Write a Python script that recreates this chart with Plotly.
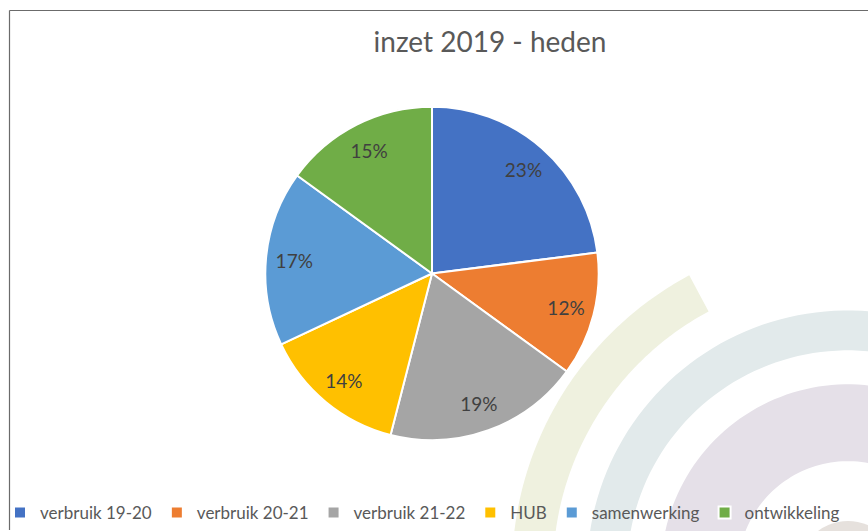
import numpy as np
import plotly.graph_objects as go

W, H = 868, 531
ML = 14  # left margin in px (room for the legend to start near the edge)

# ---- data ----
categories = ["verbruik 19-20", "verbruik 20-21", "verbruik 21-22", "HUB", "samenwerking", "ontwikkeling"]
shares = [23, 12, 19, 14, 17, 15]
colors = ["#4472C4", "#ED7D31", "#A5A5A5", "#FFC000", "#5B9BD5", "#70AD47"]
title_text = "inzet 2019 - heden"


def px(x):
    return (x - ML) / (W - ML)


def py(y):
    return 1 - y / H


def ring_path(cx, cy, r_out, r_in, a0, a1, n=120):
    """Closed band between two radii (pixel space), angles in degrees (screen)."""
    t = np.radians(np.linspace(a0, a1, n))
    outer = [(cx + r_out * np.cos(a), cy + r_out * np.sin(a)) for a in t]
    inner = [(cx + r_in * np.cos(a), cy + r_in * np.sin(a)) for a in t[::-1]]
    pts = outer + inner
    return "M " + " L ".join(f"{px(x):.5f},{py(y):.5f}" for x, y in pts) + " Z"


cx, cy = 848, 572
shapes = []
deco = [
    (336, 295, 170, 241.8, "#eff1df"),
    (261, 221, 150, 390, "#e2eaeb"),
    (187, 110, 150, 390, "#e5e0e8"),
]
for ro, ri, a0, a1, col in deco:
    shapes.append(dict(type="path", path=ring_path(cx, cy, ro, ri, a0, a1),
                       xref="paper", yref="paper", fillcolor=col,
                       line=dict(width=0), layer="below"))
shapes.append(dict(type="circle", xref="paper", yref="paper",
                   x0=px(cx - 50), x1=px(cx + 50), y0=py(cy + 50), y1=py(cy - 50),
                   fillcolor="#e6e1dd", line=dict(width=0), layer="below"))
# frame lines
shapes.append(dict(type="line", xref="paper", yref="paper",
                   x0=px(9.5), x1=px(9.5), y0=py(10.5), y1=py(H),
                   line=dict(color="#6b6b6b", width=1.2)))
shapes.append(dict(type="line", xref="paper", yref="paper",
                   x0=px(9.5), x1=px(W), y0=py(10.5), y1=py(10.5),
                   line=dict(color="#6b6b6b", width=1.2)))

pcx, pcy, pr = 432, 274, 167
dom = dict(x=[px(pcx - pr), px(pcx + pr)], y=[py(pcy + pr), py(pcy - pr)])

fig = go.Figure()
fig.add_trace(go.Pie(
    labels=categories,
    values=shares,
    sort=False,
    direction="clockwise",
    rotation=0,
    marker=dict(colors=colors, line=dict(color="white", width=2)),
    textinfo="none",
    hoverinfo="label+percent",
    domain=dom,
))
# transparent ring carrying the percentage labels near the outer edge
fig.add_trace(go.Pie(
    labels=categories,
    values=shares,
    sort=False,
    direction="clockwise",
    rotation=0,
    hole=0.66,
    marker=dict(colors=["rgba(0,0,0,0)"] * len(categories), line=dict(width=0)),
    texttemplate="%{percent:.0%}",
    textposition="inside",
    insidetextorientation="horizontal",
    insidetextfont=dict(family="Lato", size=19, color="#404040"),
    hoverinfo="skip",
    showlegend=False,
    domain=dom,
))

fig.update_layout(
    width=W, height=H,
    margin=dict(l=ML, r=0, t=0, b=0),
    paper_bgcolor="white",
    plot_bgcolor="white",
    title=dict(text=title_text, x=490 / W, xanchor="center", y=py(42), yanchor="middle",
               font=dict(family="Lato", size=28, color="#595959")),
    legend=dict(orientation="h",
                x=px(0), xanchor="left", y=-0.001, yanchor="bottom",
                font=dict(family="Lato", size=17, color="#595959"),
                bgcolor="rgba(0,0,0,0)", traceorder="normal"),
    shapes=shapes,
)

fig.write_html("out.html", config={"displayModeBar": False},
               post_script="document.body.style.margin='0';")
